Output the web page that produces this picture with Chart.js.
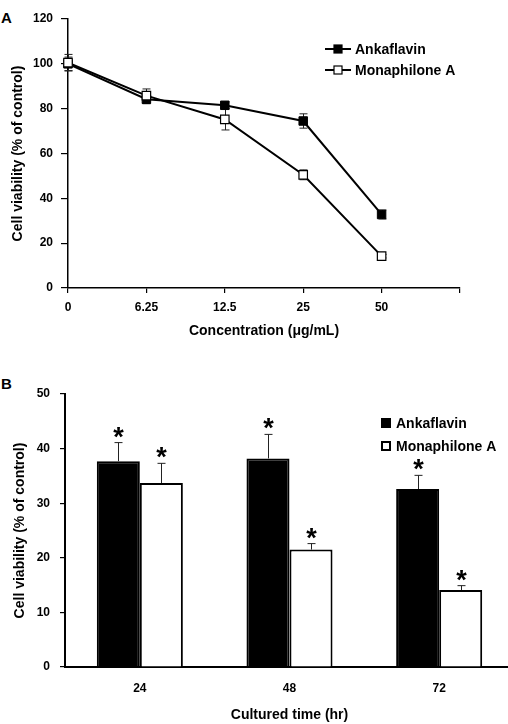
<!DOCTYPE html>
<html>
<head>
<meta charset="utf-8">
<script src="https://cdn.jsdelivr.net/npm/chart.js@4.4.1/dist/chart.umd.min.js"></script>
<style>
    html, body { margin: 0; padding: 0; background: #fff; overflow: hidden; width: 508px; height: 724px; }
    canvas { position: absolute; left: 0; }
    .tag { position: absolute; left: 1px; font: bold 15px/15px "Liberation Sans", Arial, sans-serif; color: #000; }
</style>
</head>
<body>
<div class="tag" style="top:10px">A</div>
<canvas id="chartA" width="508" height="345" style="top:0"></canvas>
<div class="tag" style="top:376px">B</div>
<canvas id="chartB" width="514" height="369" style="top:355px"></canvas>
<script>
// panel A - dose response
var concLabels = ['0', '6.25', '12.5', '25', '50', ''];
var ankaA = [100, 84.2, 81.5, 74.5, 32.8];
var ankaAErr = [3, 2, 1.5, 3.2, 2];
var monaA = [100.5, 85.8, 75.2, 50.5, 14.2];
var monaAErr = [3.7, 3, 4.7, 2.2, 0.8];

// panel B - time course at 50 ug/mL
var timeLabels = ['24', '48', '72'];
var ankaB = [37.7, 38.2, 32.6];
var ankaBErr = [3.4, 4.4, 2.5];
var monaB = [33.7, 21.5, 14.1];
var monaBErr = [3.6, 1.1, 0.8];

var seriesNames = ['Ankaflavin', 'Monaphilone A'];

Chart.defaults.font.family = '"Liberation Sans", Arial, sans-serif';
Chart.defaults.font.weight = 'bold';
Chart.defaults.font.size = 12;
Chart.defaults.color = '#000';

// whiskers read from dataset.errors
function errorBarPlugin(hook, twoSided, stars) {
    var p = { id: 'errorBars' };
    p[hook] = function (chart) {
        var ctx = chart.ctx;
        var yScale = chart.scales.y;
        ctx.save();
        chart.data.datasets.forEach(function (ds, i) {
            var meta = chart.getDatasetMeta(i);
            meta.data.forEach(function (el, j) {
                var v = ds.data[j], e = ds.errors[j];
                var x = Math.round(el.x) + 0.5;
                var top = yScale.getPixelForValue(v + e);
                var bot = yScale.getPixelForValue(twoSided ? v - e : v);
                ctx.strokeStyle = '#222';
                ctx.lineWidth = 1;
                ctx.beginPath();
                ctx.moveTo(x, top);
                ctx.lineTo(x, bot);
                ctx.moveTo(x - 4, top);
                ctx.lineTo(x + 4, top);
                if (twoSided) {
                    ctx.moveTo(x - 4, bot);
                    ctx.lineTo(x + 4, bot);
                }
                ctx.stroke();
                if (stars) {
                    ctx.fillStyle = '#000';
                    ctx.font = 'bold 27px "Liberation Sans", Arial, sans-serif';
                    ctx.textAlign = 'center';
                    ctx.textBaseline = 'alphabetic';
                    ctx.fillText('*', x, top + 3);
                }
            });
        });
        ctx.restore();
    };
    return p;
}

// simple legend drawn inside the plot
function legendPlugin(x, rows, lineStyle) {
    return {
        id: 'ownLegend',
        afterDraw: function (chart) {
            var ctx = chart.ctx;
            ctx.save();
            chart.data.datasets.forEach(function (ds, i) {
                var y = rows[i];
                if (lineStyle) {
                    ctx.strokeStyle = '#000';
                    ctx.lineWidth = 2;
                    ctx.beginPath();
                    ctx.moveTo(x, y);
                    ctx.lineTo(x + 26, y);
                    ctx.stroke();
                    ctx.fillStyle = ds.pointBackgroundColor;
                    ctx.fillRect(x + 9, y - 4, 8, 8);
                    ctx.lineWidth = 1.2;
                    ctx.strokeRect(x + 9, y - 4, 8, 8);
                    ctx.fillStyle = '#000';
                    ctx.font = 'bold 14px "Liberation Sans", Arial, sans-serif';
                    ctx.textBaseline = 'middle';
                    ctx.fillText(ds.label, x + 30, y + 1);
                } else {
                    ctx.fillStyle = ds.backgroundColor;
                    ctx.fillRect(x, y - 5, 10, 10);
                    ctx.strokeStyle = '#000';
                    ctx.lineWidth = 2;
                    ctx.strokeRect(x + 1, y - 4, 8, 8);
                    ctx.fillStyle = '#000';
                    ctx.font = 'bold 14px "Liberation Sans", Arial, sans-serif';
                    ctx.textBaseline = 'middle';
                    ctx.fillText(ds.label, x + 15, y + 1);
                }
            });
            ctx.restore();
        }
    };
}

var axisTitleFont = { size: 14, weight: 'bold' };

new Chart(document.getElementById('chartA'), {
    type: 'line',
    data: {
        labels: concLabels,
        datasets: [{
            label: seriesNames[0],
            data: ankaA,
            errors: ankaAErr,
            order: 1,
            borderColor: '#000',
            borderWidth: 2,
            pointStyle: 'rect',
            pointRadius: 6,
            pointBackgroundColor: '#000',
            pointBorderColor: '#000',
            pointBorderWidth: 1
        }, {
            label: seriesNames[1],
            data: monaA,
            errors: monaAErr,
            order: 0,
            borderColor: '#000',
            borderWidth: 2,
            pointStyle: 'rect',
            pointRadius: 6,
            pointBackgroundColor: '#fff',
            pointBorderColor: '#000',
            pointBorderWidth: 1.2
        }]
    },
    options: {
        responsive: false,
        animation: false,
        layout: { padding: { top: 19, right: 48, left: 0, bottom: 0 } },
        plugins: { legend: { display: false }, tooltip: { enabled: false } },
        scales: {
            x: {
                offset: false,
                afterFit: function (s) { s.height = 57; },
                grid: { drawOnChartArea: false, color: '#000', tickLength: 5, lineWidth: 1.2 },
                border: { color: '#000', width: 1.5 },
                ticks: { autoSkip: false, maxRotation: 0, padding: 7 },
                title: { display: true, text: 'Concentration (μg/mL)', font: axisTitleFont, padding: { top: 0, bottom: 5 } }
            },
            y: {
                min: 0,
                max: 120,
                afterFit: function (s) { s.width = 68; },
                grid: { drawOnChartArea: false, color: '#000', tickLength: 7, lineWidth: 1.2 },
                border: { color: '#000', width: 1.5 },
                ticks: { stepSize: 20, padding: 8 },
                title: { display: true, text: 'Cell viability (% of control)', font: axisTitleFont, padding: { top: 10, bottom: 0 } }
            }
        }
    },
    plugins: [errorBarPlugin('beforeDatasetsDraw', true, false), legendPlugin(325, [49, 70], true)]
});

new Chart(document.getElementById('chartB'), {
    type: 'bar',
    data: {
        labels: timeLabels,
        datasets: [{
            label: seriesNames[0],
            data: ankaB,
            errors: ankaBErr,
            backgroundColor: '#000',
            borderColor: '#000',
            borderWidth: 2,
            categoryPercentage: 0.575,
            barPercentage: 1
        }, {
            label: seriesNames[1],
            data: monaB,
            errors: monaBErr,
            backgroundColor: '#fff',
            borderColor: '#000',
            borderWidth: 2,
            categoryPercentage: 0.575,
            barPercentage: 1
        }]
    },
    options: {
        responsive: false,
        animation: false,
        layout: { padding: { top: 39, right: 0, left: 0, bottom: 0 } },
        plugins: { legend: { display: false }, tooltip: { enabled: false } },
        scales: {
            x: {
                afterFit: function (s) { s.height = 57; },
                grid: { display: false, drawTicks: false },
                border: { color: '#000', width: 2 },
                ticks: { padding: 14 },
                title: { display: true, text: 'Cultured time (hr)', font: axisTitleFont, padding: { top: 0, bottom: 0 } }
            },
            y: {
                min: 0,
                max: 50,
                afterFit: function (s) { s.width = 65; },
                grid: { drawOnChartArea: false, color: '#000', tickLength: 5, lineWidth: 1.2 },
                border: { color: '#000', width: 2 },
                ticks: { stepSize: 10, padding: 10 },
                title: { display: true, text: 'Cell viability (% of control)', font: axisTitleFont, padding: { top: 12, bottom: 0 } }
            }
        }
    },
    plugins: [errorBarPlugin('afterDatasetsDraw', false, true), legendPlugin(381, [68, 91], false)]
});
</script>
</body>
</html>
